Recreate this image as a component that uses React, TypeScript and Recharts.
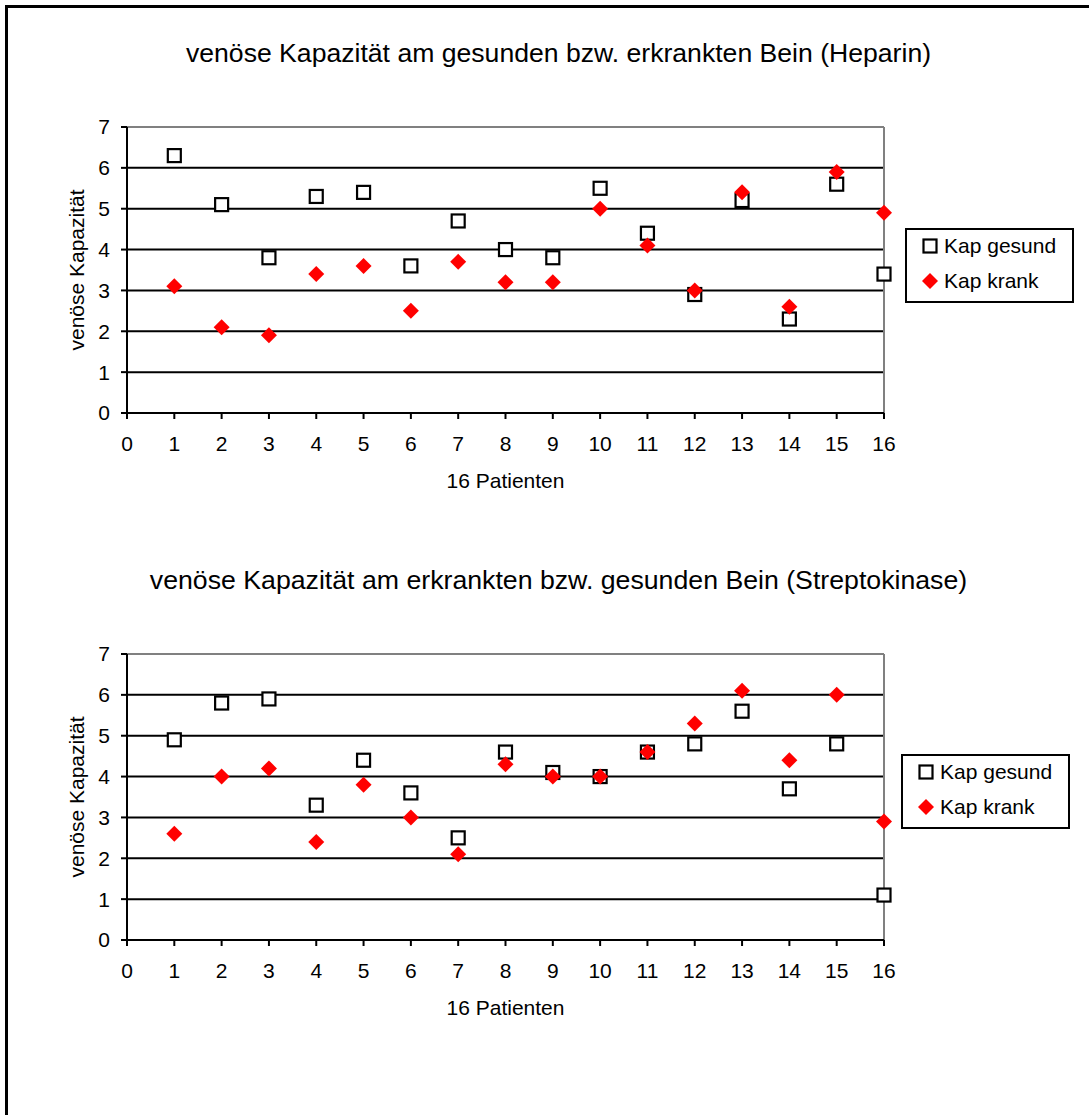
import React from 'react'
import { CartesianGrid, Legend, ReferenceLine, Scatter, ScatterChart, XAxis, YAxis } from 'recharts'

// Patienten 1..16
const patienten = [1, 2, 3, 4, 5, 6, 7, 8, 9, 10, 11, 12, 13, 14, 15, 16]
const xTicks = [0, 1, 2, 3, 4, 5, 6, 7, 8, 9, 10, 11, 12, 13, 14, 15, 16]
const yTicks = [0, 1, 2, 3, 4, 5, 6, 7]

// Heparin
const heparinGesund = [6.3, 5.1, 3.8, 5.3, 5.4, 3.6, 4.7, 4.0, 3.8, 5.5, 4.4, 2.9, 5.2, 2.3, 5.6, 3.4]
const heparinKrank = [3.1, 2.1, 1.9, 3.4, 3.6, 2.5, 3.7, 3.2, 3.2, 5.0, 4.1, 3.0, 5.4, 2.6, 5.9, 4.9]

// Streptokinase
const streptoGesund = [4.9, 5.8, 5.9, 3.3, 4.4, 3.6, 2.5, 4.6, 4.1, 4.0, 4.6, 4.8, 5.6, 3.7, 4.8, 1.1]
const streptoKrank = [2.6, 4.0, 4.2, 2.4, 3.8, 3.0, 2.1, 4.3, 4.0, 4.0, 4.6, 5.3, 6.1, 4.4, 6.0, 2.9]

const font = '"Liberation Sans", Arial, sans-serif'
const tickStyle = { fontSize: 21, fill: '#000', fontFamily: font }

const toPoints = (values: number[]) => patienten.map((p, i) => ({ x: p, y: values[i] }))

const Square = (props: any) => {
  const { cx, cy } = props
  return <rect x={cx - 6.5} y={cy - 6.5} width={13} height={13} fill="#fff" stroke="#000" strokeWidth={2.2} />
}

const Diamond = (props: any) => {
  const { cx, cy } = props
  const r = 8
  return <polygon points={`${cx},${cy - r} ${cx + r},${cy} ${cx},${cy + r} ${cx - r},${cy}`} fill="#ff0000" />
}

const LegendIcon = ({ name }: { name: string }) => (
  <svg width={18} height={18}>
    {name === 'Kap gesund'
      ? <rect x={2.5} y={2.5} width={13} height={13} fill="#fff" stroke="#000" strokeWidth={2.2} />
      : <polygon points="9,1 17,9 9,17 1,9" fill="#ff0000" />}
  </svg>
)

const LegendBox = (props: any) => {
  const names = (props.payload || []).map((p: any) => p.value)
  return (
    <div style={{
      position: 'relative', width: 169, height: 75, boxSizing: 'border-box',
      border: '2px solid #000', background: '#fff', fontFamily: font, fontSize: 21, color: '#000',
    }}>
      {names.map((n: string, i: number) => (
        <div key={n} style={{
          position: 'absolute', left: 14, top: -1.5 + i * 35, height: 35,
          display: 'flex', alignItems: 'center', gap: 5, whiteSpace: 'nowrap',
        }}>
          <LegendIcon name={n} />
          <span>{n}</span>
        </div>
      ))}
    </div>
  )
}

type ChartProps = {
  title: string
  titleSize: number
  gesund: number[]
  krank: number[]
  top: number
  legendLeft: number
  legendTop: number
}

const KapChart = ({ title, titleSize, gesund, krank, top, legendLeft, legendTop }: ChartProps) => {
  return (
    <div style={{ position: 'absolute', left: 0, top, width: 1089, height: 530, fontFamily: font }}>
      <ScatterChart width={1089} height={530} margin={{ top: 127, right: 205, bottom: 37, left: 67 }}>
        <CartesianGrid horizontal vertical={false} stroke="#000" strokeWidth={2} />
        <ReferenceLine y={7} stroke="#808080" strokeWidth={2} />
        <ReferenceLine x={16} stroke="#808080" strokeWidth={2} />
        <XAxis
          type="number"
          dataKey="x"
          domain={[0, 16]}
          ticks={xTicks}
          interval={0}
          height={80}
          tickSize={6}
          tickMargin={17}
          tick={tickStyle}
          axisLine={{ stroke: '#000', strokeWidth: 2 }}
          tickLine={{ stroke: '#000', strokeWidth: 2 }}
          label={{ value: '16 Patienten', position: 'insideBottom', offset: 5, style: { fontSize: 21, fill: '#000', fontFamily: font } }}
        />
        <YAxis
          type="number"
          dataKey="y"
          domain={[0, 7]}
          ticks={yTicks}
          interval={0}
          width={60}
          tickSize={6}
          tickMargin={11}
          tick={tickStyle}
          axisLine={{ stroke: '#000', strokeWidth: 2 }}
          tickLine={{ stroke: '#000', strokeWidth: 2 }}
          label={{ value: 'venöse Kapazität', angle: -90, position: 'insideLeft', offset: 10, style: { textAnchor: 'middle', fontSize: 21, fill: '#000', fontFamily: font } }}
        />
        <Legend
          layout="horizontal"
          align="center"
          verticalAlign="middle"
          content={<LegendBox />}
          wrapperStyle={{ left: legendLeft, top: legendTop, width: 169, height: 75 }}
        />
        <Scatter name="Kap gesund" data={toPoints(gesund)} fill="#fff" shape={<Square />} isAnimationActive={false} />
        <Scatter name="Kap krank" data={toPoints(krank)} fill="#ff0000" shape={<Diamond />} isAnimationActive={false} />
      </ScatterChart>
      <div style={{
        position: 'absolute', left: 0, top: 40, width: 1117, textAlign: 'center',
        fontSize: titleSize, lineHeight: '26px', color: '#000', whiteSpace: 'nowrap',
      }}>
        {title}
      </div>
    </div>
  )
}

const App = () => {
  return (
    <div style={{ position: 'relative', margin: -8, width: 1089, height: 1115, overflow: 'hidden', background: '#fff' }}>
      <KapChart
        title="venöse Kapazität am gesunden bzw. erkrankten Bein (Heparin)"
        titleSize={26.6}
        gesund={heparinGesund}
        krank={heparinKrank}
        top={0}
        legendLeft={905}
        legendTop={228}
      />
      <KapChart
        title="venöse Kapazität am erkrankten bzw. gesunden Bein (Streptokinase)"
        titleSize={26.7}
        gesund={streptoGesund}
        krank={streptoKrank}
        top={527}
        legendLeft={901}
        legendTop={227}
      />
      {/* outer frame: only the left and top edges fall inside the picture */}
      <div style={{ position: 'fixed', left: 5, top: 5, width: 3, height: 1110, background: '#000', zIndex: 1000 }} />
      <div style={{ position: 'fixed', left: 5, top: 5, width: 1084, height: 3, background: '#000', zIndex: 1000 }} />
    </div>
  )
}

export default App
